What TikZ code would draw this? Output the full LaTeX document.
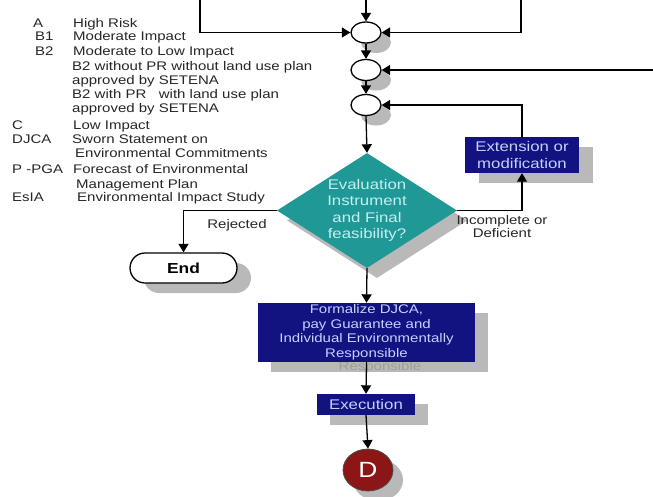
\documentclass[tikz,border=0pt]{standalone}
\usepackage{fontspec}
\setmainfont{Liberation Sans}[FakeStretch=1.2]
\usetikzlibrary{shapes.geometric,shapes.misc,arrows.meta,shadows}
\definecolor{navybox}{RGB}{18,18,128}
\definecolor{boxtext}{RGB}{200,208,255}
\definecolor{tealdia}{RGB}{32,152,150}
\definecolor{diatext}{RGB}{195,240,240}
\definecolor{dred}{RGB}{140,22,22}
\definecolor{shadowgray}{RGB}{185,185,185}
\begin{document}
\begin{tikzpicture}[x=1pt,y=-1pt,
  conn/.style={draw=black, line width=1.3pt, -{Triangle[length=8.5pt,width=10pt]}},
  myshadow/.style={drop shadow={shadow xshift=#1, shadow yshift=-10pt, fill=shadowgray, opacity=1}},
  joinc/.style={ellipse, draw=black, line width=1.3pt, fill=white, minimum width=30pt, minimum height=21pt, inner sep=0pt, myshadow=10pt},
  navy/.style={rectangle, fill=navybox, text=boxtext, inner sep=0pt, align=center},
  legend/.style={anchor=base west, inner sep=0pt, font=\fontsize{12.5}{14.5}\selectfont, text=black!85},
  lbl/.style={inner sep=0pt, align=center, font=\fontsize{12.5}{13.5}\selectfont, text=black!85}]
\useasboundingbox (0,0) rectangle (653,496);

% legend
\node[legend] (la) at (33,27.2) {A};
\node[legend] (lat) at (73,27.2) {High Risk};
\node[legend] (lb1) at (35,40.5) {B1};
\node[legend] (lb1t) at (73,40.5) {Moderate Impact};
\node[legend] (lb2) at (35,55.5) {B2};
\node[legend] (lb2t) at (73,55.5) {Moderate to Low Impact};
\node[legend] (lb2a) at (72,70.5) {B2 without PR without land use plan};
\node[legend] (lb2b) at (72,84.5) {approved by SETENA};
\node[legend] (lb2c) at (72,98.5) {B2 with PR\ \ \ with land use plan};
\node[legend] (lb2d) at (72,112.5) {approved by SETENA};
\node[legend] (lc) at (12,129) {C};
\node[legend] (lct) at (73,129) {Low Impact};
\node[legend] (ld) at (12,143.5) {DJCA};
\node[legend] (ldt) at (72,143.5) {Sworn Statement on};
\node[legend] (ldt2) at (75,157.5) {Environmental Commitments};
\node[legend] (lp) at (12,173.5) {P -PGA};
\node[legend] (lpt) at (73,173.5) {Forecast of Environmental};
\node[legend] (lpt2) at (76,188.5) {Management Plan};
\node[legend] (le) at (12,201.5) {EsIA};
\node[legend] (let) at (77,201.5) {Environmental Impact Study};

% junction circles
\node[joinc] (c1) at (366,32.5) {};
\node[joinc] (c2) at (366,70) {};
\node[joinc] (c3) at (366,105) {};

% free ends
\coordinate (topin) at (366,0);
\coordinate (leftin) at (200,0);
\coordinate (rightin) at (521,0);
\coordinate (edgein) at (653,70);

% diamond
\node[diamond, fill=tealdia, minimum width=180pt, minimum height=115pt, inner sep=0pt,
      myshadow=10pt] (dia) at (367,210.5) {};
\node[inner sep=0pt, align=center, text=diatext, font=\fontsize{14}{16.5}\selectfont] (diat) at (367,210.5)
  {Evaluation\\Instrument\\and Final\\feasibility?};

% extension box
\node[navy, minimum width=114pt, minimum height=36pt, font=\fontsize{14}{16.5}\selectfont, myshadow=14pt] (ext) at (522,155)
  {Extension or\\modification};

% End
\node[rounded rectangle, draw=black, line width=1.3pt, fill=white, minimum width=107pt, minimum height=30pt,
      inner sep=0pt, font=\bfseries\fontsize{14.5}{16}\selectfont, myshadow=14pt] (end) at (183.5,268) {End};

% formalize box with manual shadow and ghost text
\fill[shadowgray] (270.5,313) rectangle (487.5,372);
\node[inner sep=0pt, text=black!38, font=\fontsize{12.5}{14.5}\selectfont] (ghost) at (380,367.5) {Responsible};
\node[navy, minimum width=217pt, minimum height=59pt, font=\fontsize{12.5}{14.5}\selectfont] (form) at (366.5,332.5)
  {Formalize DJCA,\\pay Guarantee and\\Individual Environmentally\\Responsible};

% execution
\node[navy, minimum width=98pt, minimum height=21pt, font=\fontsize{14}{16.5}\selectfont, myshadow=13pt] (exec) at (366,404.5)
  {Execution};

% D connector
\node[ellipse, fill=dred, draw=black!70, line width=0.8pt, minimum width=50pt, minimum height=42pt, inner sep=0pt, text=white,
      font=\fontsize{22}{22}\selectfont, drop shadow={shadow xshift=10pt, shadow yshift=-10pt, fill=shadowgray, opacity=1}] (dnode) at (368,470) {D};

% labels
\node[lbl] (rej) at (237,225) {Rejected};
\node[lbl] (inc) at (502,226.5) {Incomplete or\\Deficient};

% connectors
\draw[conn] (topin) -- (c1.north);
\draw[conn] (leftin) |- (c1.west);
\draw[conn] (rightin) |- (c1.east);
\draw[conn] (c1.south) -- (c2.north);
\draw[conn] (c2.south) -- (c3.north);
\draw[conn] (edgein) -- (c2.east);
\draw[conn] (ext.north) |- (c3.east);
\draw[conn] (c3.south) -- (dia.north);
\draw[conn] (dia.east) -| (ext.south);
\draw[conn] (dia.west) -| (end.north);
\draw[conn] (dia.south) -- (form.north);
\draw[conn] (form.south) -- (exec.north);
\draw[conn] (exec.south) -- (dnode.north);
\end{tikzpicture}
\end{document}
